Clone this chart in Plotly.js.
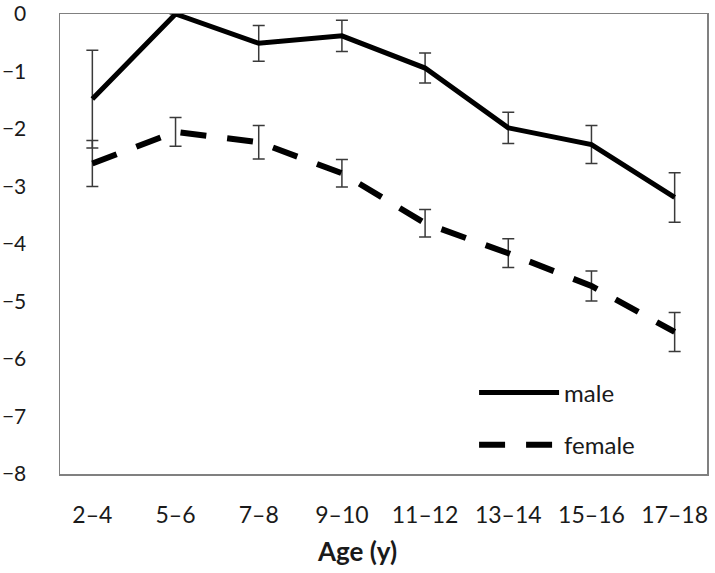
<!DOCTYPE html>
<html>
<head>
<meta charset="utf-8">
<script src="https://cdn.plot.ly/plotly-3.0.1.min.js"></script>
<style>html,body{margin:0;padding:0;background:#fff;}#chart{width:715px;height:573px;}</style>
</head>
<body>
<div id="chart"></div>
<script>
const ageGroups = ["2–4","5–6","7–8","9–10","11–12","13–14","15–16","17–18"];
const maleValues = [-1.48, 0.0, -0.51, -0.38, -0.94, -1.98, -2.27, -3.19];
const maleErrors = [0.85, 0.0, 0.31, 0.27, 0.26, 0.27, 0.33, 0.43];
const femaleValues = [-2.60, -2.05, -2.23, -2.77, -3.64, -4.16, -4.73, -5.53];
const femaleErrors = [0.40, 0.25, 0.29, 0.24, 0.24, 0.25, 0.26, 0.34];
const yTicks = [0,-1,-2,-3,-4,-5,-6,-7,-8];
const xTitle = 'Age (y)';

const font = "Lato, 'Open Sans', sans-serif";
const txt = '#1a1a1a';

const errStyle = {type:'data', visible:true, color:'#3a3a3a', thickness:1.5, width:6};

const traces = [
  {
    x: ageGroups, y: femaleValues, name: 'female', type: 'scatter', mode: 'lines',
    legendgroup: 'f', legendrank: 2,
    line: {color:'#000', width:6, dash:'26px,21px'},
    error_y: Object.assign({array: femaleErrors}, errStyle)
  },
  {
    x: ageGroups, y: maleValues, name: 'male', type: 'scatter', mode: 'lines',
    legendgroup: 'm', legendrank: 1,
    line: {color:'#000', width:5},
    error_y: Object.assign({array: maleErrors}, errStyle)
  }
];

const layout = {
  width: 715, height: 573,
  margin: {l:60, r:8, t:14, b:99},
  paper_bgcolor:'#fff', plot_bgcolor:'#fff',
  font: {family: font, size: 23, color: txt},
  showlegend: true,
  legend: {
    x: 0.64, y: 0.225, xanchor:'left', yanchor:'top',
    bgcolor:'rgba(0,0,0,0)', font:{family:font, size:24, color:txt},
    itemwidth: 80, tracegroupgap: 18, traceorder:'grouped'
  },
  xaxis: {
    type:'category', categoryorder:'array', categoryarray: ageGroups,
    showgrid:false, zeroline:false,
    showline:true, mirror:true, linecolor:'#808080', linewidth:1.5,
    ticks:'', ticklabelstandoff: 20,
    tickfont:{family:font, size:23, color:txt}
  },
  yaxis: {
    range:[-8, 0], tickvals: yTicks, ticktext: yTicks.map(v => v === 0 ? '0' : '\u2212' + Math.abs(v)),
    showgrid:false, zeroline:false,
    showline:true, mirror:true, linecolor:'#808080', linewidth:1.5,
    ticks:'', ticklabelstandoff: 28, ticklabeloverflow:'allow',
    tickfont:{family:font, size:21, color:txt}
  },
  annotations: [{
    text: '<b>' + xTitle + '</b>', showarrow:false,
    xref:'paper', yref:'paper', x: 0.4598, y: -0.168, xanchor:'center', yanchor:'middle',
    font:{family:font, size:26, color:txt}
  }]
};

Plotly.newPlot('chart', traces, layout, {displayModeBar:false, staticPlot:true});
</script>
</body>
</html>
